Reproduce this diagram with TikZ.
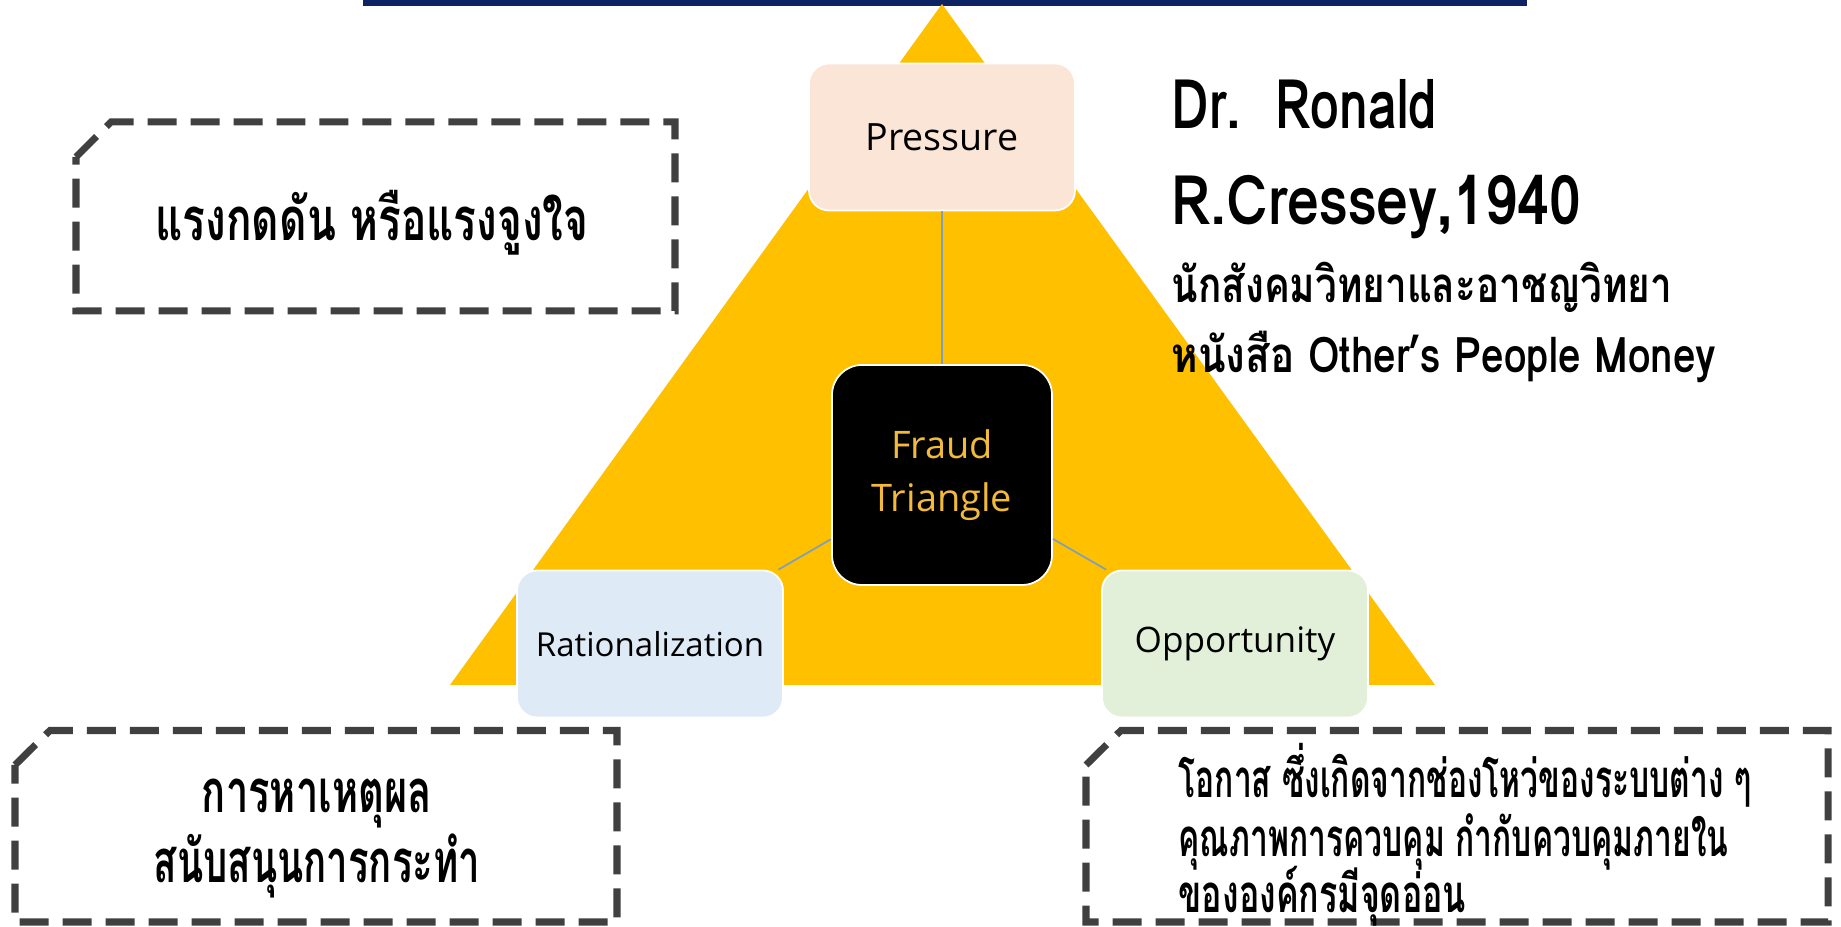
\documentclass[tikz,border=0pt]{standalone}
\usepackage{fontspec}
\setmainfont{Open Sans}
\newfontfamily\thaifont[Script=Thai]{Loma}
\definecolor{barblue}{RGB}{14,36,98}
\definecolor{trigold}{RGB}{255,192,0}
\definecolor{fraudtxt}{RGB}{242,186,58}
\definecolor{peach}{RGB}{251,229,214}
\definecolor{paleblue}{RGB}{222,235,247}
\definecolor{palegreen}{RGB}{226,240,217}
\definecolor{linkgray}{RGB}{127,159,186}
\definecolor{dashgray}{RGB}{64,64,64}
\newcommand{\thaibold}[2]{\thaifont\bfseries\addfontfeatures{FakeStretch=#2}\fontsize{#1}{#1}\selectfont}
\tikzset{
  sidebox/.style={rectangle, rounded corners=0.2cm, draw=white, line width=0.5pt,
    minimum width=2.66cm, minimum height=1.47cm},
  notebox/.style={draw=dashgray, line width=2pt, dash pattern=on 0.29cm off 0.14cm},
  notetext/.style={anchor=base, inner sep=0pt},
  link/.style={draw=linkgray, line width=0.5pt}
}
\begin{document}
\begin{tikzpicture}
  \useasboundingbox (0,0) rectangle (18.41,9.27);
  % bar and triangle
  \fill[barblue] (3.63,9.21) rectangle (15.27,9.27);
  \fill[trigold] (4.50,2.42) -- (9.42,9.23) -- (14.35,2.42) -- cycle;
  % the four boxes
  \node[sidebox, fill=peach, font=\fontsize{10.7}{12}\selectfont] (pressure) at (9.42,7.90) {Pressure};
  \node[rectangle, rounded corners=0.3cm, fill=black, draw=white, line width=0.5pt,
    minimum width=2.2cm, minimum height=2.2cm, align=center, text=fraudtxt,
    font=\fontsize{10.8}{15}\selectfont] (fraud) at (9.42,4.52) {Fraud\\Triangle};
  \node[sidebox, fill=paleblue, font=\fontsize{9.4}{11}\selectfont] (rational) at (6.50,2.83) {Rationalization};
  \node[sidebox, fill=palegreen, font=\fontsize{10}{11}\selectfont] (opport) at (12.35,2.83) {Opportunity};
  \draw[link] (pressure) -- (fraud);
  \draw[link] (fraud) -- (rational);
  \draw[link] (fraud) -- (opport);
  % dashed notes
  \draw[notebox] (0.76,7.70) -- (1.11,8.05) -- (6.75,8.05) -- (6.75,6.16) -- (0.76,6.16) -- cycle;
  \draw[notebox] (0.15,1.62) -- (0.50,1.965) -- (6.17,1.965) -- (6.17,0.05) -- (0.15,0.05) -- cycle;
  \draw[notebox] (10.86,1.62) -- (11.21,1.965) -- (18.28,1.965) -- (18.28,0.05) -- (10.86,0.05) -- cycle;
  \node[notetext, font=\thaibold{17}{0.71}] (pushnote) at (3.72,6.86) {แรงกดดัน หรือแรงจูงใจ};
  \node[notetext, font=\thaibold{17}{0.667}] (rationote) at (3.17,1.145) {การหาเหตุผล};
  \node[notetext, font=\thaibold{17}{0.642}] (rationote2) at (3.17,0.44) {สนับสนุนการกระทำ};
  \node[notetext, anchor=base west, font=\thaibold{15}{0.603}] (opponote) at (11.78,1.29)
    {โอกาส ซึ่งเกิดจากช่องโหว่ของระบบต่าง ๆ};
  \node[notetext, anchor=base west, font=\thaibold{15}{0.603}] (opponote2) at (11.78,0.70)
    {คุณภาพการควบคุม กำกับควบคุมภายใน};
  \node[notetext, anchor=base west, font=\thaibold{15}{0.645}] (opponote3) at (11.78,0.14)
    {ขององค์กรมีจุดอ่อน};
  % author text
  \node[notetext, anchor=base west, font=\thaibold{19.5}{0.755}] (drname) at (11.71,7.98) {Dr.~~Ronald};
  \node[notetext, anchor=base west, font=\thaibold{19.5}{0.838}] (drsur) at (11.71,7.02) {R.Cressey,1940};
  \node[notetext, anchor=base west, font=\thaibold{14}{0.786}] (drjob) at (11.71,6.24) {นักสังคมวิทยาและอาชญวิทยา};
  \node[notetext, anchor=base west, font=\thaibold{14}{0.822}] (drbook) at (11.71,5.54) {หนังสือ Other’s People Money};
\end{tikzpicture}
\end{document}
